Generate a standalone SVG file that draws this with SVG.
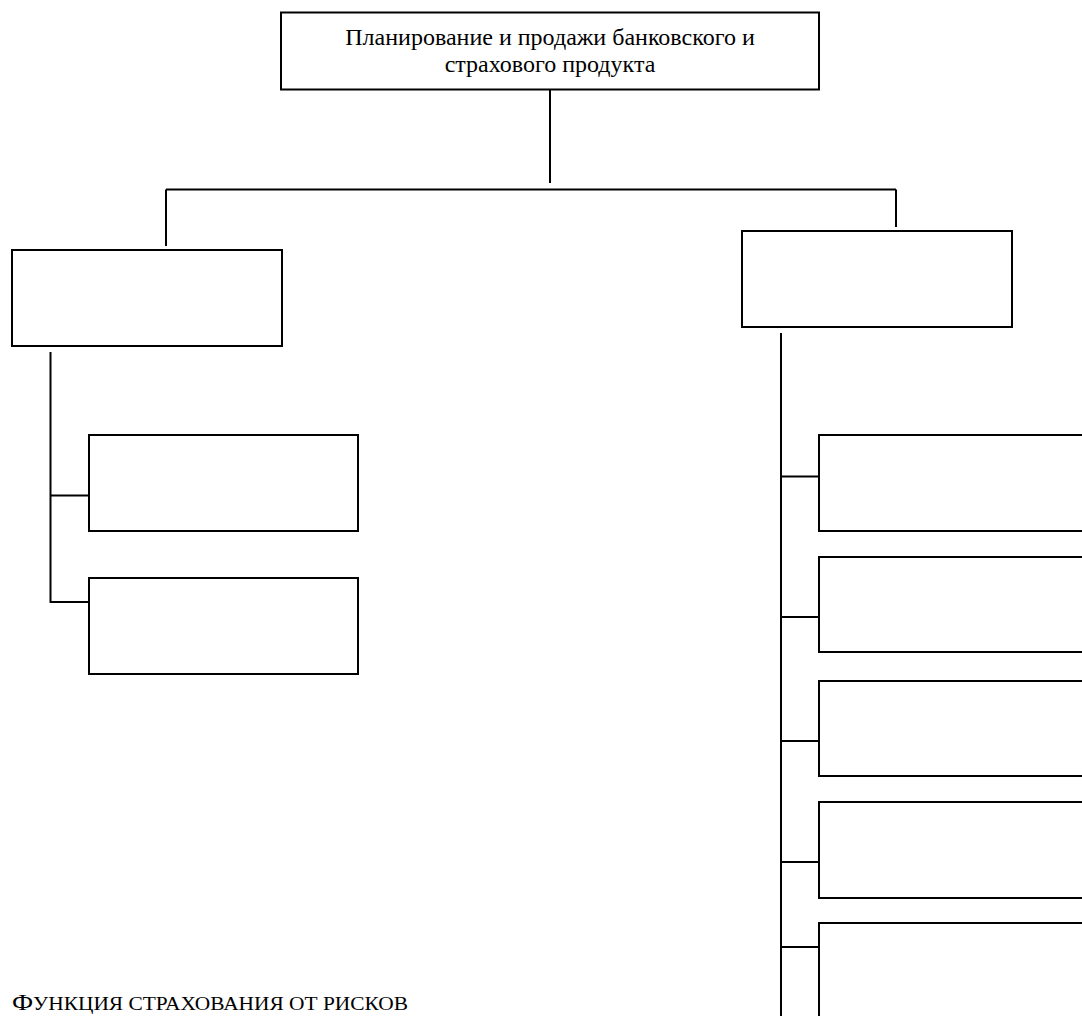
<svg xmlns="http://www.w3.org/2000/svg" width="1082" height="1016" viewBox="0 0 1082 1016">
<style>
.box{fill:#fff;stroke:#000;stroke-width:2}
.ln{fill:none;stroke:#000;stroke-width:2}
.t{font-family:"Liberation Serif","Times New Roman",serif;fill:#000}
</style>
<rect width="1082" height="1016" fill="#fff"/>
<g id="connectors">
<line class="ln" x1="550" y1="89" x2="550" y2="183"/>
<line class="ln" x1="166" y1="189.5" x2="896" y2="189.5"/>
<line class="ln" x1="166" y1="189.5" x2="166" y2="246"/>
<line class="ln" x1="896" y1="189.5" x2="896" y2="227"/>
<line class="ln" x1="50.5" y1="352" x2="50.5" y2="603"/>
<line class="ln" x1="50.5" y1="495.5" x2="89" y2="495.5"/>
<line class="ln" x1="50.5" y1="602" x2="89" y2="602"/>
<line class="ln" x1="781" y1="333" x2="781" y2="1016"/>
<line class="ln" x1="781" y1="476.5" x2="819" y2="476.5"/>
<line class="ln" x1="781" y1="617" x2="819" y2="617"/>
<line class="ln" x1="781" y1="741" x2="819" y2="741"/>
<line class="ln" x1="781" y1="862" x2="819" y2="862"/>
<line class="ln" x1="781" y1="947" x2="819" y2="947"/>
</g>
<g id="root">
<rect class="box" x="281" y="12.5" width="538" height="77"/>
<text class="t" font-size="24" text-anchor="middle"><tspan x="550" y="45">Планирование и продажи банковского и</tspan><tspan x="550" y="72">страхового продукта</tspan></text>
</g>
<g id="left"><rect class="box" x="12" y="250" width="270" height="96"/></g>
<g id="right"><rect class="box" x="742" y="231" width="270" height="96"/></g>
<g id="left1"><rect class="box" x="89" y="435" width="269" height="96"/></g>
<g id="left2"><rect class="box" x="89" y="578" width="269" height="96"/></g>
<g id="right1"><rect class="box" x="819" y="435" width="280" height="96"/></g>
<g id="right2"><rect class="box" x="819" y="557" width="280" height="95"/></g>
<g id="right3"><rect class="box" x="819" y="681" width="280" height="95"/></g>
<g id="right4"><rect class="box" x="819" y="802" width="280" height="96"/></g>
<g id="right5"><rect class="box" x="819" y="923" width="280" height="110"/></g>
<text class="t" x="12" y="1010" textLength="396" lengthAdjust="spacingAndGlyphs"><tspan font-size="23">Ф</tspan><tspan font-size="18.4">УНКЦИЯ СТРАХОВАНИЯ ОТ РИСКОВ</tspan></text>
</svg>
